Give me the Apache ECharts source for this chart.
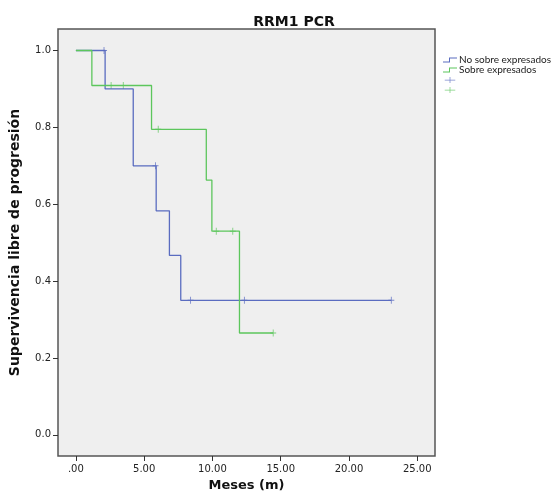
<!DOCTYPE html>
<html>
<head>
<meta charset="utf-8">
<script src="https://cdn.jsdelivr.net/npm/echarts@6/dist/echarts.min.js"></script>
<style>
  html, body { margin: 0; padding: 0; background: #fff; }
  #chart { width: 560px; height: 502px; }
</style>
</head>
<body>
<div id="chart"></div>
<script>
// curvas de Kaplan-Meier
const seriesNames = ['No sobre expresados', 'Sobre expresados'];

const noSobreTimes = [0, 2.14, 4.2, 5.88, 6.85, 7.68, 23.1];
const noSobreSurv = [1.0, 0.9, 0.7, 0.583, 0.467, 0.35, 0.35];
const noSobreCensorTimes = [2.06, 5.83, 8.4, 12.34, 23.1];
const noSobreCensorSurv = [1.0, 0.7, 0.35, 0.35, 0.35];

const sobreTimes = [0, 1.17, 5.54, 9.55, 9.96, 11.98, 14.45];
const sobreSurv = [1.0, 0.909, 0.795, 0.663, 0.53, 0.265, 0.265];
const sobreCensorTimes = [2.58, 3.47, 6.03, 10.28, 11.49, 14.45];
const sobreCensorSurv = [0.909, 0.909, 0.795, 0.53, 0.53, 0.265];

const xTicks = [0, 5, 10, 15, 20, 25];
const yTicks = [0, 0.2, 0.4, 0.6, 0.8, 1.0];

const blue = '#5a6cc0';
const green = '#5cc65c';

const plusPath = 'path://M-0.5,-3.5L0.5,-3.5L0.5,-0.5L3.5,-0.5L3.5,0.5L0.5,0.5L0.5,3.5L-0.5,3.5L-0.5,0.5L-3.5,0.5L-3.5,-0.5L-0.5,-0.5Z';
const legendPlus = 'path://M0,3.5L14,3.5L14,4.5L0,4.5ZM6.5,0L7.5,0L7.5,8L6.5,8Z';
const legendStep = 'path://M0,4L6,4L6,0L14,0L14,1L7,1L7,5L0,5Z';

const zip = (a, b) => a.map((v, i) => [v, b[i]]);

const chart = echarts.init(document.getElementById('chart'));

chart.setOption({
    animation: false,
    textStyle: {fontFamily: 'DejaVu Sans'},
    title: {
        text: 'RRM1 PCR',
        left: 289,
        textAlign: 'center',
        top: 10,
        textStyle: {fontSize: 14, fontWeight: 'bold', color: '#111', fontFamily: 'DejaVu Sans'}
    },
    legend: {
        orient: 'vertical',
        left: 438,
        top: 50,
        itemWidth: 14,
        itemHeight: 6,
        itemGap: 0,
        textStyle: {fontSize: 10, color: '#222', fontFamily: 'Lato', padding: [0, 0, 0, -3]},
        formatter: name => name.indexOf('censurado') >= 0 ? ' ' : name,
        data: [
            {name: seriesNames[0], icon: legendStep},
            {name: seriesNames[1], icon: legendStep},
            {name: seriesNames[0] + ' censurado', icon: legendPlus},
            {name: seriesNames[1] + ' censurado', icon: legendPlus}
        ]
    },
    grid: {
        left: 56, right: 125, top: 29, bottom: 46,
        show: true,
        backgroundColor: '#efefef',
        borderColor: '#555',
        borderWidth: 1.5
    },
    xAxis: {
        type: 'value',
        min: -1.31,
        max: 26.3,
        name: 'Meses (m)',
        nameLocation: 'middle',
        nameGap: 20,
        nameTextStyle: {fontSize: 13, fontWeight: 'bold', color: '#111'},
        axisLine: {show: false, onZero: false},
        splitLine: {show: false},
        axisTick: {show: true, length: 5, customValues: xTicks, lineStyle: {color: '#333'}},
        axisLabel: {
            customValues: xTicks, margin: 8, fontSize: 10, color: '#222',
            formatter: v => v === 0 ? '.00' : v.toFixed(2)
        }
    },
    yAxis: {
        type: 'value',
        min: -0.055,
        max: 1.056,
        name: 'Supervivencia libre de progresión',
        nameLocation: 'middle',
        nameGap: 36,
        nameTextStyle: {fontSize: 14, fontWeight: 'bold', color: '#111'},
        axisLine: {show: false, onZero: false},
        splitLine: {show: false},
        axisTick: {show: true, length: 5, customValues: yTicks, lineStyle: {color: '#333'}},
        axisLabel: {
            customValues: yTicks, margin: 7, fontSize: 10, color: '#222',
            formatter: v => v.toFixed(1)
        }
    },
    series: [
        {
            name: seriesNames[0],
            type: 'line',
            step: 'end',
            showSymbol: false,
            color: blue,
            lineStyle: {width: 1.3},
            data: zip(noSobreTimes, noSobreSurv)
        },
        {
            name: seriesNames[1],
            type: 'line',
            step: 'end',
            showSymbol: false,
            color: green,
            lineStyle: {width: 1.3},
            data: zip(sobreTimes, sobreSurv)
        },
        {
            name: seriesNames[0] + ' censurado',
            type: 'scatter',
            symbol: plusPath,
            symbolSize: [6, 7],
            color: blue,
            data: zip(noSobreCensorTimes, noSobreCensorSurv)
        },
        {
            name: seriesNames[1] + ' censurado',
            type: 'scatter',
            symbol: plusPath,
            symbolSize: [6, 7],
            color: green,
            data: zip(sobreCensorTimes, sobreCensorSurv)
        }
    ]
});
</script>
</body>
</html>
